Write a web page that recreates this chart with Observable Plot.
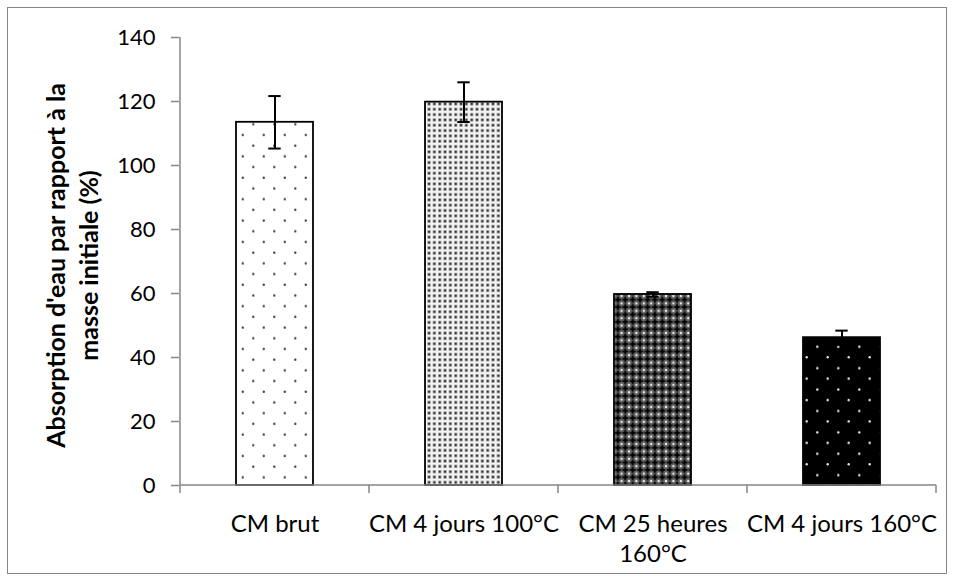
<!DOCTYPE html>
<html><head><meta charset="utf-8">
<script src="https://cdn.jsdelivr.net/npm/d3@7"></script>
<script src="https://cdn.jsdelivr.net/npm/@observablehq/plot@0.6"></script>
<style>
body{margin:0;background:#fff;}
#wrap{position:relative;width:954px;height:581px;overflow:hidden;}
#wrap svg{position:absolute;left:0;top:0;}
#border{position:absolute;left:7px;top:7px;width:938px;height:565px;border:1.5px solid #868686;pointer-events:none;}
</style></head><body><div id="wrap"><div id="border"></div></div>
<script>
// ---- data ----
const categories = ["CM brut", "CM 4 jours 100°C", "CM 25 heures 160°C", "CM 4 jours 160°C"];
const tickLabels = ["CM brut", "CM 4 jours 100°C", "CM 25 heures\n160°C", "CM 4 jours 160°C"];
const values = [113.5, 119.8, 59.7, 46.2];
const errors = [8.2, 6.2, 0.7, 2.2];
const yTicks = [0, 20, 40, 60, 80, 100, 120, 140];
const yLabel = "Absorption d'eau par rapport à la\nmasse initiale (%)";

// ---- styles ----
const patternFills = ["url(#pBrut)", "url(#p100)", "url(#p25h)", "url(#p160)"];
const axisGray = "#868686";

const data = categories.map((c, i) => ({cat: c, value: values[i], err: errors[i], fill: patternFills[i]}));

function defsMark() {
  const defs = d3.create("svg:defs");
  // sparse dots on white
  const p1 = defs.append("pattern").attr("id", "pBrut").attr("patternUnits", "userSpaceOnUse").attr("width", 21).attr("height", 21.4);
  p1.append("rect").attr("width", 21).attr("height", 21.4).attr("fill", "white");
  p1.append("circle").attr("cx", 1.3).attr("cy", 17.3).attr("r", 1.2).attr("fill", "#444");
  p1.append("circle").attr("cx", 11.8).attr("cy", 6.6).attr("r", 1.2).attr("fill", "#444");
  // dense dots
  const s = 5.33;
  const p2 = defs.append("pattern").attr("id", "p100").attr("patternUnits", "userSpaceOnUse").attr("width", s).attr("height", s);
  p2.append("rect").attr("width", s).attr("height", s).attr("fill", "#f4f4f4");
  p2.append("rect").attr("x", 1).attr("y", 1).attr("width", 3.3).attr("height", 3.3).attr("fill", "#a0a0a0");
  p2.append("rect").attr("x", 1.7).attr("y", 1.7).attr("width", 1.9).attr("height", 1.9).attr("fill", "#333");
  // dark lattice
  const t = 7.4;
  const p3 = defs.append("pattern").attr("id", "p25h").attr("patternUnits", "userSpaceOnUse").attr("width", t).attr("height", t);
  p3.append("rect").attr("width", t).attr("height", t).attr("fill", "#5e5e5e");
  p3.append("rect").attr("x", 2.2).attr("y", 2.2).attr("width", 3).attr("height", 3).attr("fill", "#000");
  p3.append("rect").attr("x", 0.6).attr("y", 2.95).attr("width", 6.2).attr("height", 1.5).attr("fill", "#000");
  p3.append("rect").attr("x", 2.95).attr("y", 0.6).attr("width", 1.5).attr("height", 6.2).attr("fill", "#000");
  for (const [cx, cy] of [[0, 0], [t, 0], [0, t], [t, t]])
    p3.append("circle").attr("cx", cx).attr("cy", cy).attr("r", 1.15).attr("fill", "#f0f0f0");
  // white dots on black
  const p4 = defs.append("pattern").attr("id", "p160").attr("patternUnits", "userSpaceOnUse").attr("width", 21).attr("height", 21.4);
  p4.append("rect").attr("width", 21).attr("height", 21.4).attr("fill", "black");
  p4.append("circle").attr("cx", 19.3).attr("cy", 4.3).attr("r", 1.2).attr("fill", "#e8e8e8");
  p4.append("circle").attr("cx", 8.7).attr("cy", 14.9).attr("r", 1.2).attr("fill", "#e8e8e8");
  return defs.node();
}

function axisLines(index, scales, values, dims) {
  const x = scales.x, y = scales.y;
  const n = categories.length;
  let bw = typeof x.bandwidth === "function" ? x.bandwidth() : x.bandwidth;
  let step = typeof x.step === "function" ? x.step() : x.step;
  const plotW = dims.width - dims.marginLeft - dims.marginRight;
  if (!(step > 0)) step = plotW / n;
  if (!(bw > 0)) bw = step * 0.405;
  const gap = (step - bw) / 2;
  const bounds = categories.map(c => x(c) - gap).concat([x(categories[n - 1]) + bw + gap]);
  const y0 = y(0), yTop = y(yTicks[yTicks.length - 1]);
  const g = d3.create("svg:g").attr("stroke", axisGray).attr("stroke-width", 1.5).attr("fill", "none");
  g.append("line").attr("x1", bounds[0]).attr("x2", bounds[0]).attr("y1", yTop).attr("y2", y0);
  g.append("line").attr("x1", bounds[0]).attr("x2", bounds[n]).attr("y1", y0).attr("y2", y0);
  for (const b of bounds) g.append("line").attr("x1", b).attr("x2", b).attr("y1", y0).attr("y2", y0 + 8);
  return g.node();
}

const capStyle = {stroke: "black", strokeWidth: 2, insetLeft: 32.3, insetRight: 32.3};

const chart = Plot.plot({
  width: 954, height: 581,
  marginLeft: 179, marginRight: 17, marginTop: 37, marginBottom: 96,
  style: {fontFamily: "Lato, sans-serif", fontSize: "22px", color: "black", background: "transparent", overflow: "visible"},
  x: {domain: categories, paddingInner: 0.595, paddingOuter: 0.2975, axis: null},
  y: {domain: [0, 140], axis: null},
  color: {type: "identity"},
  marks: [
    defsMark,
    Plot.barY(data, {x: "cat", y: "value", fill: "fill", stroke: "black", strokeWidth: 1.8}),
    Plot.ruleX(data, {x: "cat", y1: d => d.value - d.err, y2: d => d.value + d.err, stroke: "black", strokeWidth: 2}),
    Plot.tickY(data, {x: "cat", y: d => d.value + d.err, ...capStyle}),
    Plot.tickY(data, {x: "cat", y: d => d.value - d.err, ...capStyle}),
    Plot.axisY({ticks: yTicks, label: null, tickSize: 8, tickPadding: 16, stroke: axisGray, strokeWidth: 1.5, fill: "black", tickFormat: d => String(d), fontSize: 22}),
    Plot.axisX({label: null, tickSize: 0, tickPadding: 25, fill: "black", fontSize: 24, lineHeight: 1.25,
      tickFormat: d => tickLabels[categories.indexOf(d)]}),
    axisLines,
    Plot.text([yLabel], {frameAnchor: "left", textAnchor: "middle", lineAnchor: "middle", rotate: -90, dx: -109, dy: 4, fontWeight: "bold", fontSize: 25, lineHeight: 1.32, fill: "black"})
  ]
});
document.getElementById("wrap").prepend(chart);
</script>
</body></html>
